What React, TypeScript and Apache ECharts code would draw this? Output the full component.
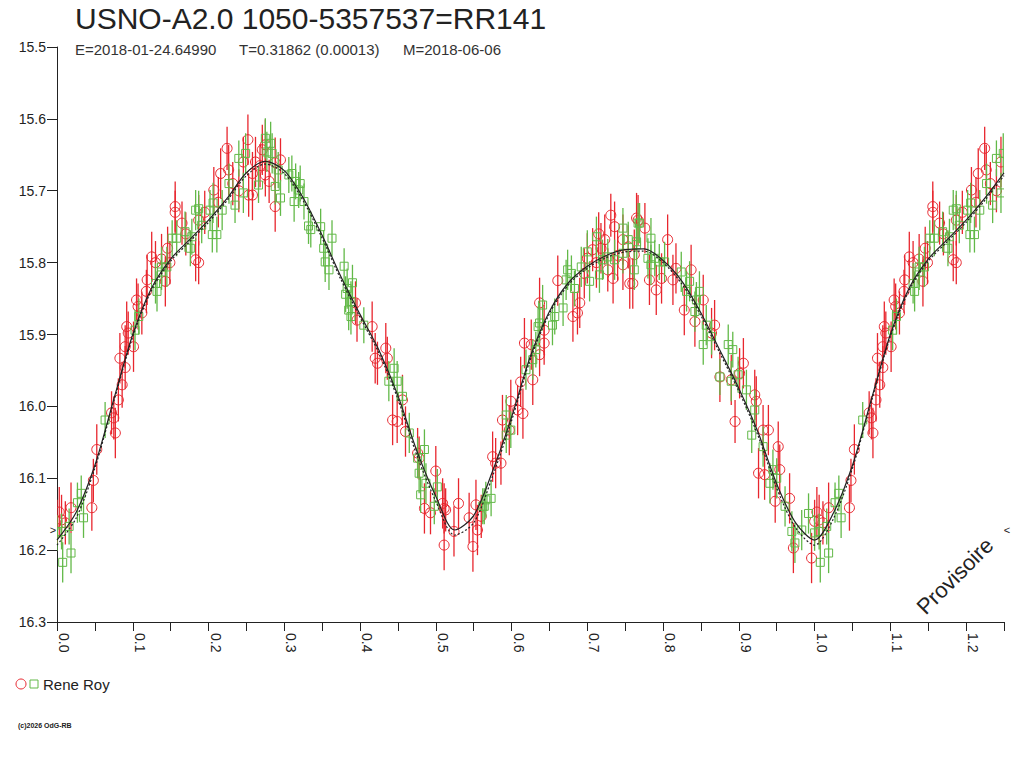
import React, { useEffect, useRef } from 'react';
import * as echarts from 'echarts';

// ---- texts ----
const titleText = 'USNO-A2.0 1050-5357537=RR141';
const subtitleParts = ['E=2018-01-24.64990', 'T=0.31862 (0.00013)', 'M=2018-06-06'];
const legendName = 'Rene Roy';
const copyrightText = '(c)2026 OdG-RB';
const watermarkText = 'Provisoire';

// ---- axes ----
const phaseMin = 0;
const phaseMax = 1.25;
const phaseStep = 0.05;
const magMin = 15.5;
const magMax = 16.3;
const magStep = 0.1;

// ---- observations [phase, magnitude, error] (phase 0..1, folded copies added for phase+1) ----
const redObs: number[][] = [
  [0.0, 16.16, 0.03], [0.003, 16.147, 0.035], [0.006, 16.158, 0.035], [0.011, 16.162, 0.03], [0.0185, 16.141, 0.035],
  [0.046, 16.141, 0.032], [0.048, 16.103, 0.03], [0.0525, 16.06, 0.035], [0.072, 16.009, 0.03], [0.075, 16.016, 0.03],
  [0.077, 16.037, 0.035], [0.081, 15.991, 0.03], [0.086, 15.97, 0.032], [0.083, 15.933, 0.035], [0.09, 15.946, 0.03],
  [0.09, 15.917, 0.03], [0.092, 15.889, 0.035], [0.094, 15.898, 0.03], [0.101, 15.917, 0.035], [0.105, 15.852, 0.03],
  [0.107, 15.861, 0.032], [0.112, 15.87, 0.03], [0.118, 15.84, 0.03], [0.119, 15.824, 0.035], [0.125, 15.792, 0.035],
  [0.13, 15.8, 0.03], [0.138, 15.795, 0.035], [0.143, 15.826, 0.035], [0.146, 15.78, 0.03], [0.149, 15.8, 0.03],
  [0.156, 15.722, 0.035], [0.156, 15.73, 0.03], [0.165, 15.745, 0.03], [0.17, 15.76, 0.03], [0.183, 15.796, 0.03],
  [0.187, 15.8, 0.03], [0.187, 15.741, 0.035], [0.195, 15.73, 0.03], [0.207, 15.699, 0.032], [0.213, 15.716, 0.035],
  [0.216, 15.676, 0.035], [0.2245, 15.641, 0.03], [0.2266, 15.671, 0.035], [0.232, 15.69, 0.03], [0.24, 15.7, 0.03],
  [0.246, 15.66, 0.035], [0.252, 15.629, 0.035], [0.253, 15.706, 0.03],
  [0.258, 15.676, 0.03], [0.258, 15.706, 0.035], [0.262, 15.66, 0.035], [0.268, 15.665, 0.03], [0.271, 15.643, 0.035],
  [0.275, 15.636, 0.035], [0.275, 15.678, 0.03], [0.28, 15.687, 0.03], [0.288, 15.661, 0.035], [0.295, 15.657, 0.03],
  [0.288, 15.722, 0.035], [0.394, 15.856, 0.03], [0.396, 15.88, 0.03], [0.416, 15.889, 0.035], [0.434, 15.919, 0.035],
  [0.42, 15.933, 0.035], [0.423, 15.94, 0.03], [0.436, 15.933, 0.03], [0.456, 15.991, 0.035], [0.443, 16.019, 0.035],
  [0.449, 16.021, 0.03], [0.46, 16.035, 0.035], [0.476, 16.065, 0.035], [0.478, 16.072, 0.03], [0.5, 16.09, 0.035],
  [0.485, 16.142, 0.035], [0.493, 16.148, 0.03], [0.509, 16.135, 0.035], [0.511, 16.142, 0.035], [0.511, 16.193, 0.035],
  [0.513, 16.144, 0.03], [0.524, 16.174, 0.035], [0.53, 16.135, 0.035], [0.544, 16.155, 0.035], [0.549, 16.195, 0.035],
  [0.553, 16.137, 0.035], [0.555, 16.172, 0.035], [0.56, 16.153, 0.03], [0.575, 16.07, 0.035], [0.579, 16.079, 0.035],
  [0.586, 16.079, 0.03], [0.588, 16.019, 0.035], [0.597, 16.033, 0.035], [0.599, 15.993, 0.03], [0.608, 16.005, 0.035],
  [0.612, 15.966, 0.035], [0.615, 16.01, 0.035], [0.617, 15.912, 0.035], [0.626, 15.914, 0.035], [0.628, 15.963, 0.035],
  [0.637, 15.856, 0.035], [0.637, 15.928, 0.03], [0.643, 15.894, 0.035], [0.643, 15.912, 0.03], [0.661, 15.825, 0.035],
  [0.681, 15.875, 0.035], [0.687, 15.87, 0.03], [0.69, 15.856, 0.035], [0.696, 15.815, 0.035], [0.7, 15.794, 0.035],
  [0.707, 15.782, 0.03], [0.712, 15.8, 0.035], [0.715, 15.76, 0.03], [0.718, 15.78, 0.035], [0.723, 15.768, 0.035],
  [0.727, 15.81, 0.03], [0.731, 15.734, 0.03], [0.734, 15.822, 0.035], [0.736, 15.75, 0.035], [0.74, 15.79, 0.035],
  [0.747, 15.768, 0.035], [0.747, 15.803, 0.035], [0.754, 15.778, 0.03], [0.756, 15.829, 0.035], [0.762, 15.789, 0.035],
  [0.765, 15.738, 0.035], [0.767, 15.741, 0.035], [0.776, 15.752, 0.035], [0.76, 15.829, 0.035], [0.782, 15.824, 0.035],
  [0.791, 15.838, 0.035], [0.798, 15.822, 0.035], [0.806, 15.768, 0.035], [0.813, 15.824, 0.035], [0.817, 15.808, 0.035],
  [0.837, 15.81, 0.035], [0.828, 15.866, 0.035], [0.842, 15.882, 0.035], [0.853, 15.852, 0.035], [0.864, 15.898, 0.035],
  [0.868, 15.887, 0.035], [0.875, 15.959, 0.035], [0.89, 15.963, 0.035], [0.895, 16.021, 0.03], [0.901, 15.954, 0.035],
  [0.906, 15.94, 0.035], [0.921, 15.984, 0.035], [0.923, 15.993, 0.035], [0.926, 16.093, 0.035], [0.932, 16.033, 0.035],
  [0.934, 16.095, 0.035], [0.939, 16.033, 0.035], [0.948, 16.132, 0.03], [0.952, 16.056, 0.035], [0.954, 16.088, 0.035],
  [0.967, 16.128, 0.035], [0.972, 16.197, 0.035], [0.996, 16.211, 0.035],
];

const greenObs: number[][] = [
  [0.0, 16.176, 0.025], [0.006, 16.174, 0.025], [0.0075, 16.217, 0.028], [0.016, 16.167, 0.025], [0.0185, 16.204, 0.028],
  [0.027, 16.134, 0.028], [0.032, 16.121, 0.025], [0.035, 16.155, 0.028], [0.0635, 16.019, 0.025], [0.103, 15.894, 0.028],
  [0.108, 15.875, 0.025], [0.13, 15.829, 0.028], [0.132, 15.84, 0.028], [0.138, 15.806, 0.028], [0.138, 15.813, 0.025],
  [0.145, 15.806, 0.028], [0.152, 15.766, 0.025], [0.158, 15.766, 0.025], [0.169, 15.757, 0.028], [0.176, 15.78, 0.025],
  [0.178, 15.764, 0.025], [0.183, 15.727, 0.028], [0.187, 15.725, 0.025], [0.191, 15.748, 0.025], [0.202, 15.727, 0.028],
  [0.205, 15.761, 0.025], [0.206, 15.717, 0.028], [0.211, 15.761, 0.025], [0.218, 15.727, 0.028], [0.227, 15.69, 0.028],
  [0.235, 15.72, 0.025], [0.24, 15.655, 0.025], [0.246, 15.703, 0.028], [0.249, 15.648, 0.028],
  [0.266, 15.692, 0.025], [0.275, 15.627, 0.028], [0.277, 15.646, 0.028], [0.282, 15.634, 0.03], [0.284, 15.648, 0.028],
  [0.288, 15.694, 0.025], [0.292, 15.671, 0.025], [0.295, 15.71, 0.025], [0.306, 15.678, 0.025], [0.31, 15.676, 0.025],
  [0.313, 15.715, 0.028], [0.315, 15.687, 0.025], [0.319, 15.699, 0.025], [0.321, 15.69, 0.025], [0.326, 15.715, 0.025],
  [0.332, 15.749, 0.025], [0.335, 15.754, 0.025], [0.348, 15.75, 0.025], [0.352, 15.78, 0.025], [0.354, 15.799, 0.028],
  [0.359, 15.81, 0.028], [0.363, 15.766, 0.025], [0.379, 15.805, 0.025], [0.381, 15.844, 0.025], [0.383, 15.836, 0.028],
  [0.385, 15.866, 0.028], [0.388, 15.854, 0.028], [0.388, 15.875, 0.025], [0.39, 15.828, 0.025], [0.405, 15.887, 0.025],
  [0.438, 15.965, 0.028], [0.445, 15.947, 0.028], [0.449, 15.965, 0.028], [0.456, 15.986, 0.028], [0.465, 16.037, 0.028],
  [0.476, 16.072, 0.028], [0.478, 16.093, 0.028], [0.48, 16.123, 0.025], [0.485, 16.06, 0.028], [0.487, 16.107, 0.028],
  [0.498, 16.139, 0.025], [0.502, 16.112, 0.025],
  [0.562, 16.139, 0.025], [0.564, 16.139, 0.025], [0.566, 16.13, 0.025], [0.573, 16.128, 0.025], [0.593, 16.012, 0.028],
  [0.593, 16.04, 0.025], [0.599, 16.033, 0.025], [0.619, 15.949, 0.028], [0.628, 15.935, 0.028], [0.632, 15.921, 0.025],
  [0.635, 15.889, 0.028], [0.637, 15.884, 0.028], [0.641, 15.859, 0.028], [0.654, 15.887, 0.028], [0.657, 15.875, 0.025],
  [0.668, 15.863, 0.025], [0.672, 15.824, 0.028], [0.674, 15.81, 0.028], [0.679, 15.815, 0.025], [0.683, 15.836, 0.025],
  [0.692, 15.806, 0.028], [0.7, 15.785, 0.03], [0.703, 15.826, 0.028], [0.712, 15.764, 0.028], [0.716, 15.817, 0.025],
  [0.72, 15.796, 0.028], [0.727, 15.792, 0.025], [0.736, 15.796, 0.028], [0.747, 15.752, 0.028], [0.747, 15.787, 0.028],
  [0.754, 15.768, 0.025], [0.762, 15.81, 0.028], [0.765, 15.775, 0.028], [0.767, 15.745, 0.028],
  [0.769, 15.745, 0.028], [0.765, 15.771, 0.025], [0.78, 15.794, 0.028], [0.784, 15.766, 0.028], [0.784, 15.803, 0.028],
  [0.789, 15.794, 0.025], [0.795, 15.799, 0.025], [0.802, 15.799, 0.028], [0.824, 15.813, 0.028], [0.831, 15.84, 0.028],
  [0.835, 15.826, 0.028], [0.842, 15.868, 0.028], [0.844, 15.852, 0.025], [0.848, 15.84, 0.028], [0.853, 15.914, 0.028],
  [0.857, 15.887, 0.028], [0.864, 15.903, 0.025], [0.875, 15.959, 0.025], [0.886, 15.914, 0.028], [0.89, 15.965, 0.028],
  [0.892, 15.921, 0.025], [0.899, 15.956, 0.025], [0.91, 15.977, 0.028], [0.917, 16.04, 0.025], [0.921, 16.005, 0.028],
  [0.932, 16.056, 0.028], [0.941, 16.107, 0.028], [0.945, 16.088, 0.028], [0.95, 16.1, 0.028], [0.961, 16.139, 0.028],
  [0.97, 16.174, 0.028], [0.974, 16.19, 0.028], [0.983, 16.172, 0.028], [0.992, 16.149, 0.028],
];

// ---- fitted light curves (phase 0..1) ----
const curvePhase = [
  0, 0.025, 0.05, 0.075, 0.1, 0.125, 0.15, 0.175, 0.2, 0.225, 0.25, 0.275, 0.3, 0.325, 0.35, 0.375, 0.4, 0.425, 0.45, 0.475,
  0.5, 0.525, 0.55, 0.575, 0.6, 0.625, 0.65, 0.675, 0.7, 0.725, 0.75, 0.775, 0.8, 0.825, 0.85, 0.875, 0.9, 0.925, 0.95, 0.975, 1,
];
const curveMagA = [
  16.186, 16.148, 16.082, 15.99, 15.9, 15.835, 15.795, 15.768, 15.741, 15.71, 15.675, 15.659, 15.672, 15.71, 15.762, 15.82,
  15.872, 15.922, 15.985, 16.062, 16.125, 16.172, 16.152, 16.09, 16.015, 15.93, 15.868, 15.828, 15.805, 15.79, 15.782, 15.781,
  15.797, 15.826, 15.87, 15.922, 15.975, 16.035, 16.108, 16.162, 16.186,
];
const curveMagB = [
  16.193, 16.156, 16.086, 15.993, 15.903, 15.838, 15.798, 15.771, 15.744, 15.713, 15.679, 15.663, 15.676, 15.714, 15.766, 15.824,
  15.876, 15.926, 15.99, 16.068, 16.132, 16.179, 16.162, 16.097, 16.02, 15.934, 15.871, 15.831, 15.808, 15.793, 15.785, 15.784,
  15.8, 15.83, 15.874, 15.926, 15.979, 16.04, 16.114, 16.169, 16.193,
];

const RED = '#e8262e';
const GREEN = '#62b948';
const INK = '#222222';
const FONT = '"Liberation Sans", Arial, Helvetica, sans-serif';

function fold(obs: number[][]): number[][] {
  const out = obs.map((d) => d.slice());
  obs.forEach((d) => {
    if (d[0] + 1 <= phaseMax + 1e-9) out.push([d[0] + 1, d[1], d[2]]);
  });
  return out;
}

function foldCurve(mags: number[]): number[][] {
  const out: number[][] = curvePhase.map((p, i) => [p, mags[i]]);
  curvePhase.forEach((p, i) => {
    if (p > 0 && p + 1 <= phaseMax + 1e-9) out.push([p + 1, mags[i]]);
  });
  return out;
}

function makeRender(kind: 'circle' | 'square', color: string) {
  return (_params: any, api: any) => {
    const x = api.value(0);
    const y = api.value(1);
    const e = api.value(2);
    const p = api.coord([x, y]);
    const t = api.coord([x, y - e]);
    const b = api.coord([x, y + e]);
    const marker =
      kind === 'circle'
        ? { type: 'circle', shape: { cx: p[0], cy: p[1], r: 5 }, style: { fill: 'none', stroke: color, lineWidth: 1 } }
        : { type: 'rect', shape: { x: p[0] - 4, y: p[1] - 4, width: 8, height: 8 }, style: { fill: 'none', stroke: color, lineWidth: 1 } };
    return {
      type: 'group',
      children: [
        { type: 'line', shape: { x1: p[0], y1: t[1], x2: p[0], y2: b[1] }, style: { stroke: color, lineWidth: 1.3 } },
        marker,
      ],
    };
  };
}

export default function App() {
  const ref = useRef<HTMLDivElement>(null);
  useEffect(() => {
    document.body.style.margin = '0';
    const chart = echarts.init(ref.current!, null, { renderer: 'svg' });
    const option: any = {
      animation: false,
      backgroundColor: '#ffffff',
      grid: { left: 57, right: 20, top: 47, bottom: 146, outerBoundsMode: 'none' },
      xAxis: {
        type: 'value',
        min: phaseMin,
        max: phaseMax,
        interval: phaseStep,
        axisLine: { show: true, onZero: false, lineStyle: { color: INK, width: 1 } },
        axisTick: { show: true, length: 9, lineStyle: { color: INK, width: 1 } },
        splitLine: { show: false },
        axisLabel: {
          rotate: -90,
          margin: 11,
          verticalAlign: 'bottom',
          fontFamily: FONT,
          fontSize: 14,
          color: INK,
          formatter: (v: number) => {
            const t = Math.round(v * 100);
            return t % 10 === 0 ? (t / 100).toFixed(1) : '';
          },
        },
      },
      yAxis: {
        type: 'value',
        inverse: true,
        min: magMin,
        max: magMax,
        interval: magStep,
        axisLine: { show: true, onZero: false, lineStyle: { color: INK, width: 1 } },
        axisTick: { show: true, length: 10, lineStyle: { color: INK, width: 1 } },
        splitLine: { show: false },
        axisLabel: {
          margin: 11,
          verticalAlign: 'middle',
          padding: [0, 0, 10, 0],
          fontFamily: FONT,
          fontSize: 14,
          color: INK,
          formatter: (v: number) => v.toFixed(1),
        },
      },
      series: [
        {
          type: 'custom',
          name: legendName,
          renderItem: makeRender('circle', RED),
          data: fold(redObs),
          encode: { x: 0, y: 1 },
          clip: true,
          z: 2,
        },
        {
          type: 'custom',
          name: legendName + ' V',
          renderItem: makeRender('square', GREEN),
          data: fold(greenObs),
          encode: { x: 0, y: 1 },
          clip: true,
          z: 3,
        },
        {
          type: 'line',
          data: foldCurve(curveMagA),
          showSymbol: false,
          smooth: 0.3,
          lineStyle: { color: INK, width: 1.2 },
          z: 5,
        },
        {
          type: 'line',
          data: foldCurve(curveMagB),
          showSymbol: false,
          smooth: 0.3,
          lineStyle: { color: INK, width: 1.2, type: [2, 2] },
          z: 5,
        },
      ],
      graphic: [
        {
          type: 'text',
          left: 75,
          top: 3,
          style: { text: titleText, fontFamily: FONT, fontSize: 30, fill: INK },
        },
        { type: 'text', x: 75, y: 49, style: { text: subtitleParts[0], fontFamily: FONT, fontSize: 15, fill: '#333', verticalAlign: 'middle' } },
        { type: 'text', x: 239, y: 49, style: { text: subtitleParts[1], fontFamily: FONT, fontSize: 15, fill: '#333', verticalAlign: 'middle' } },
        { type: 'text', x: 403, y: 49, style: { text: subtitleParts[2], fontFamily: FONT, fontSize: 15, fill: '#333', verticalAlign: 'middle' } },
        { type: 'circle', shape: { cx: 21, cy: 684, r: 5 }, style: { fill: 'none', stroke: RED, lineWidth: 1 } },
        { type: 'rect', shape: { x: 30, y: 680, width: 8, height: 8 }, style: { fill: 'none', stroke: GREEN, lineWidth: 1 } },
        { type: 'text', x: 43, y: 684, style: { text: legendName, fontFamily: FONT, fontSize: 15, fill: INK, verticalAlign: 'middle' } },
        { type: 'text', x: 18, y: 725, style: { text: copyrightText, fontFamily: FONT, fontSize: 7, fontWeight: 'bold', fill: INK, verticalAlign: 'middle' } },
        {
          type: 'text',
          x: 955,
          y: 576,
          rotation: Math.PI / 4,
          style: { text: watermarkText, fontFamily: FONT, fontSize: 22, fill: INK, align: 'center', verticalAlign: 'middle' },
        },
        { type: 'text', x: 1007, y: 530, style: { text: '<', fontFamily: FONT, fontSize: 11, fill: INK, align: 'center', verticalAlign: 'middle' } },
        { type: 'text', x: 53, y: 530, style: { text: '>', fontFamily: FONT, fontSize: 11, fill: INK, align: 'center', verticalAlign: 'middle' } },
      ],
    };
    chart.setOption(option);
    return () => chart.dispose();
  }, []);
  return <div ref={ref} style={{ width: 1024, height: 768 }} />;
}
